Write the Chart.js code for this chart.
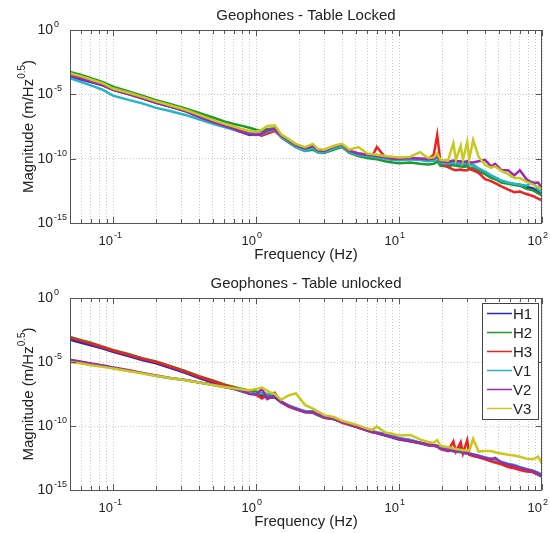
<!DOCTYPE html>
<html>
<head>
<meta charset="utf-8">
<script src="https://cdn.jsdelivr.net/npm/chart.js@4.4.0/dist/chart.umd.min.js"></script>
<style>
  html, body { margin: 0; padding: 0; background: #fff; }
  #wrap { position: relative; width: 550px; height: 533px; }
  #wrap canvas { position: absolute; left: 0; top: 0; }
</style>
</head>
<body>
<div id="wrap">
  <canvas id="locked" width="550" height="533"></canvas>
  <canvas id="unlocked" width="550" height="533"></canvas>
</div>
<script>
// frequency grid (Hz)
const freq = [0.05, 0.06, 0.07, 0.085, 0.1, 0.13, 0.16, 0.2, 0.25, 0.32, 0.4, 0.5, 0.6, 0.7, 0.8, 0.9,
  1.0, 1.1, 1.2, 1.35, 1.5, 1.7, 1.9, 2.2, 2.5, 2.7, 3.0, 3.5, 4.0, 4.5, 5.2, 6.0, 6.5, 7.0, 8.0, 9.0,
  10, 12, 14, 16, 17.5, 18.5, 19.5, 22, 24, 25, 27, 28, 30, 31, 33, 36, 40, 44, 47, 52, 58, 64, 70, 78, 86, 94, 100];

const seriesNames = ['H1', 'H2', 'H3', 'V1', 'V2', 'V3'];
const seriesColors = ['#2b2bb0', '#1f9a2e', '#ee2222', '#22b5c9', '#9a2ab0', '#c8c81e'];

// magnitudes as powers of ten, table locked
const lockedH1 = [-3.6, -3.85, -4.05, -4.3, -4.65, -5.0, -5.3, -5.65, -5.95, -6.3, -6.75, -7.15, -7.45, -7.7, -7.95, -8.15,
  -8.1, -8.2, -8.0, -7.8, -8.3, -8.7, -9.0, -9.25, -9.1, -9.4, -9.45, -9.2, -9.0, -9.45, -9.65, -9.75, -9.8, -9.85, -9.95, -10.05,
  -10.1, -10.0, -10.05, -10.15, -10.1, -9.7, -10.4, -10.5, -10.35, -10.4, -10.4, -10.45, -10.45, -10.5, -10.5, -10.8, -11.1, -11.4, -11.5, -11.8, -11.9, -12.0, -12.05, -12.2, -12.3, -12.55, -12.75];
const lockedH2 = [-3.26, -3.5, -3.75, -4.05, -4.4, -4.8, -5.1, -5.45, -5.75, -6.1, -6.45, -6.8, -7.1, -7.3, -7.45, -7.6,
  -7.75, -7.85, -7.7, -7.65, -8.35, -8.75, -9.1, -9.4, -9.3, -9.5, -9.55, -9.3, -9.1, -9.55, -9.8, -9.95, -10.0, -10.05, -10.2, -10.3,
  -10.35, -10.3, -10.4, -10.45, -10.4, -10.2, -10.55, -10.6, -10.5, -10.55, -10.6, -10.65, -10.6, -10.7, -10.75, -11.0, -11.2, -11.5, -11.6, -11.85, -11.95, -12.05, -12.1, -12.35, -12.45, -12.7, -12.85];
const lockedH3 = [-3.5, -3.75, -3.95, -4.25, -4.6, -4.95, -5.25, -5.6, -5.9, -6.25, -6.65, -7.05, -7.35, -7.6, -7.85, -8.0,
  -8.05, -8.2, -8.05, -7.85, -8.3, -8.65, -8.95, -9.2, -8.95, -9.35, -9.4, -9.1, -8.95, -9.4, -9.6, -9.7, -9.8, -9.1, -9.9, -9.95,
  -10.0, -9.95, -10.0, -10.0, -9.7, -8.15, -10.3, -10.65, -10.85, -10.9, -10.85, -10.9, -10.9, -10.8, -10.9, -11.1, -11.6, -11.75, -11.9, -12.15, -12.4, -12.6, -12.55, -12.75, -12.9, -13.1, -13.25];
const lockedV1 = [-3.75, -4.05, -4.3, -4.65, -5.1, -5.45, -5.7, -6.05, -6.3, -6.6, -6.95, -7.3, -7.55, -7.75, -7.95, -8.05,
  -8.0, -8.1, -7.9, -7.75, -8.3, -8.7, -9.05, -9.4, -9.2, -9.5, -9.5, -9.2, -9.0, -9.5, -9.7, -9.8, -9.85, -9.9, -10.0, -10.1,
  -10.1, -10.05, -10.1, -10.2, -10.15, -9.9, -10.35, -10.4, -10.3, -10.35, -10.4, -10.4, -10.35, -10.45, -10.5, -10.75, -11.0, -11.3, -11.45, -11.7, -11.85, -11.95, -12.0, -12.1, -11.8, -12.4, -12.6];
const lockedV2 = [-3.55, -3.8, -4.0, -4.3, -4.65, -5.0, -5.3, -5.65, -5.95, -6.3, -6.75, -7.15, -7.45, -7.7, -7.95, -8.1,
  -8.15, -8.05, -7.8, -7.7, -8.2, -8.6, -8.95, -9.2, -9.0, -9.35, -9.4, -9.05, -8.9, -9.4, -9.6, -9.7, -9.75, -9.8, -9.9, -10.0,
  -10.0, -9.95, -10.0, -10.05, -10.0, -9.8, -10.2, -10.25, -10.15, -10.2, -10.2, -10.25, -10.2, -10.3, -10.3, -10.2, -10.1, -10.6, -10.4, -10.9, -10.9, -11.3, -10.9, -11.6, -11.9, -11.85, -12.3];
const lockedV3 = [-3.35, -3.6, -3.85, -4.15, -4.55, -4.9, -5.2, -5.55, -5.85, -6.2, -6.6, -7.0, -7.3, -7.5, -7.7, -7.85,
  -7.9, -7.75, -7.45, -7.4, -8.1, -8.5, -8.85, -9.1, -8.85, -9.25, -9.3, -9.0, -8.85, -9.3, -9.1, -9.6, -9.65, -9.7, -9.8, -9.85,
  -9.9, -9.85, -9.5, -9.95, -9.9, -9.6, -10.1, -10.15, -8.8, -10.1, -9.0, -10.1, -8.7, -10.05, -8.55, -9.85, -10.5, -10.7, -10.6, -10.95, -11.2, -11.5, -11.5, -11.8, -12.0, -12.2, -12.4];

// magnitudes as powers of ten, table unlocked
const unlockedH1 = [-3.25, -3.5, -3.7, -3.95, -4.2, -4.55, -4.85, -5.1, -5.45, -5.85, -6.25, -6.6, -6.9, -7.1, -7.3, -7.45,
  -7.5, -7.65, -7.8, -7.75, -8.15, -8.45, -8.65, -8.9, -8.95, -9.15, -9.35, -9.45, -9.7, -9.9, -10.1, -10.35, -10.45, -10.55, -10.75, -10.9,
  -11.05, -11.2, -11.35, -11.5, -11.55, -11.6, -11.75, -11.9, -11.95, -12.0, -11.7, -12.1, -12.15, -12.2, -12.3, -12.4, -12.55, -12.7, -12.75, -12.9, -13.05, -13.15, -13.3, -13.45, -13.6, -13.8, -13.95];
const unlockedH2 = [-3.05, -3.3, -3.5, -3.8, -4.05, -4.4, -4.7, -4.95, -5.3, -5.7, -6.1, -6.45, -6.75, -6.95, -7.1, -7.25,
  -7.3, -7.5, -7.7, -7.65, -8.1, -8.45, -8.65, -8.85, -8.9, -9.1, -9.3, -9.45, -9.65, -9.85, -10.05, -10.3, -10.4, -10.5, -10.6, -10.7,
  -10.95, -11.1, -11.3, -11.45, -11.5, -11.55, -11.7, -11.85, -11.95, -12.0, -12.05, -12.1, -12.1, -12.2, -12.25, -12.35, -12.45, -12.6, -12.7, -12.8, -13.0, -13.1, -13.25, -13.4, -13.55, -13.75, -13.9];
const unlockedH3 = [-3.1, -3.35, -3.55, -3.85, -4.1, -4.45, -4.75, -5.0, -5.35, -5.75, -6.15, -6.5, -6.8, -7.0, -7.2, -7.35,
  -7.55, -7.85, -7.6, -7.4, -8.15, -8.5, -8.7, -8.9, -8.95, -9.1, -9.35, -9.45, -9.75, -9.9, -10.15, -10.35, -10.5, -10.55, -10.7, -10.85,
  -11.0, -11.2, -11.3, -11.5, -11.55, -11.6, -11.8, -11.95, -11.2, -12.0, -11.25, -12.15, -11.1, -12.25, -12.35, -12.45, -12.6, -12.75, -12.85, -13.0, -13.2, -13.3, -13.45, -13.55, -13.6, -13.75, -13.8];
const unlockedV1 = [-4.85, -5.0, -5.15, -5.3, -5.45, -5.7, -5.85, -6.1, -6.25, -6.4, -6.6, -6.8, -6.95, -7.1, -7.25, -7.45,
  -7.5, -7.4, -7.5, -7.5, -8.1, -8.4, -8.6, -8.85, -8.85, -9.1, -9.3, -9.4, -9.65, -9.85, -10.05, -10.3, -10.4, -10.5, -10.65, -10.8,
  -10.95, -11.1, -11.3, -11.45, -11.5, -11.55, -11.7, -11.85, -11.9, -11.95, -12.0, -12.05, -12.1, -12.15, -12.2, -12.3, -12.45, -12.55, -12.65, -12.8, -12.95, -13.05, -13.2, -13.35, -13.5, -13.65, -13.8];
const unlockedV2 = [-4.82, -4.98, -5.12, -5.28, -5.42, -5.65, -5.85, -6.05, -6.25, -6.4, -6.6, -6.75, -6.95, -7.1, -7.25, -7.5,
  -7.55, -7.1, -7.9, -7.6, -8.1, -8.45, -8.65, -8.9, -8.9, -9.1, -9.3, -9.45, -9.7, -9.85, -10.1, -10.35, -10.45, -10.55, -10.7, -10.85,
  -11.0, -11.15, -11.3, -11.45, -11.5, -11.55, -11.75, -11.9, -11.95, -12.0, -12.0, -12.05, -12.1, -12.15, -12.25, -12.35, -12.5, -12.6, -12.5, -12.85, -13.0, -13.1, -13.25, -13.4, -13.5, -13.7, -13.85];
const unlockedV3 = [-5.0, -5.12, -5.25, -5.38, -5.5, -5.72, -5.9, -6.1, -6.25, -6.42, -6.6, -6.8, -6.95, -7.05, -7.15, -7.2,
  -7.1, -7.0, -7.25, -7.5, -7.95, -7.6, -7.45, -8.35, -8.65, -8.85, -9.15, -9.3, -9.6, -9.75, -9.95, -10.2, -10.3, -10.05, -10.5, -10.6,
  -10.75, -10.7, -11.05, -11.25, -11.3, -11.1, -11.55, -11.65, -11.75, -11.8, -11.85, -11.9, -11.9, -11.95, -11.0, -12.0, -11.95, -11.95, -12.05, -12.15, -12.25, -12.3, -12.4, -12.55, -12.6, -12.4, -12.95];

// axis ticks
const xTicks = [0.05, 0.06, 0.07, 0.08, 0.09, 0.1, 0.2, 0.3, 0.4, 0.5, 0.6, 0.7, 0.8, 0.9,
  1, 2, 3, 4, 5, 6, 7, 8, 9, 10, 20, 30, 40, 50, 60, 70, 80, 90, 100];
const xLabelTicks = [0.1, 1, 10, 100];
const yTicks = [1e-15, 1e-10, 1e-5, 1];

const FONT = "'Liberation Sans', Arial, sans-serif";

function supLabel(ctx, x, y, exp, baseSize, raise) {
  // "10" ends at x, exponent starts right after it
  ctx.font = baseSize + 'px ' + FONT;
  ctx.textAlign = 'right';
  ctx.fillText('10', x, y);
  ctx.font = '9px ' + FONT;
  ctx.textAlign = 'left';
  ctx.fillText(String(exp), x + 1, y - raise);
}

const framePlugin = {
  id: 'frame',
  afterDraw(chart, args, opts) {
    const { ctx, chartArea: a, scales: { x, y } } = chart;
    ctx.save();
    ctx.fillStyle = '#222';
    ctx.strokeStyle = '#555';
    ctx.lineWidth = 1;
    ctx.strokeRect(a.left + 0.5, a.top + 0.5, a.right - a.left - 1, a.bottom - a.top);

    // inner tick marks
    ctx.beginPath();
    xTicks.forEach(v => {
      const px = Math.round(x.getPixelForValue(v)) + 0.5;
      const len = xLabelTicks.includes(v) ? 6 : 4;
      ctx.moveTo(px, a.bottom); ctx.lineTo(px, a.bottom - len);
      ctx.moveTo(px, a.top); ctx.lineTo(px, a.top + len);
    });
    yTicks.forEach(v => {
      const py = Math.round(y.getPixelForValue(v)) + 0.5;
      ctx.moveTo(a.left, py); ctx.lineTo(a.left + 6, py);
      ctx.moveTo(a.right, py); ctx.lineTo(a.right - 6, py);
    });
    ctx.stroke();

    // tick labels
    ctx.textBaseline = 'alphabetic';
    xLabelTicks.forEach(v => {
      const px = x.getPixelForValue(v);
      supLabel(ctx, px, a.bottom + 22, Math.round(Math.log10(v)), 13, 7);
    });
    yTicks.forEach(v => {
      const py = y.getPixelForValue(v);
      supLabel(ctx, 53, py + 4, Math.round(Math.log10(v)), 14, 7);
    });

    // titles
    const cx = (a.left + a.right) / 2;
    ctx.font = '15px ' + FONT;
    ctx.textAlign = 'center';
    ctx.fillText(opts.title, cx, a.top - 10);
    ctx.fillText('Frequency (Hz)', cx, a.bottom + 36);

    // y title with superscript
    const cy = (a.top + a.bottom) / 2;
    const main = 'Magnitude (m/Hz';
    ctx.font = '15px ' + FONT;
    const w1 = ctx.measureText(main).width;
    const w3 = ctx.measureText(')').width;
    ctx.font = '10px ' + FONT;
    const w2 = ctx.measureText('0.5').width;
    const total = w1 + w2 + w3;
    ctx.translate(33, cy);
    ctx.rotate(-Math.PI / 2);
    ctx.textAlign = 'left';
    ctx.font = '15px ' + FONT;
    ctx.fillText(main, -total / 2, 0);
    ctx.font = '10px ' + FONT;
    ctx.fillText('0.5', -total / 2 + w1, -8);
    ctx.font = '15px ' + FONT;
    ctx.fillText(')', -total / 2 + w1 + w2, 0);
    ctx.restore();

    // legend
    if (opts.legend) {
      ctx.save();
      ctx.fillStyle = '#fff';
      ctx.fillRect(482, 303, 56, 116);
      ctx.strokeStyle = '#444';
      ctx.lineWidth = 1;
      ctx.strokeRect(482.5, 303.5, 56, 116);
      ctx.font = '15px ' + FONT;
      ctx.textAlign = 'left';
      seriesNames.forEach((n, i) => {
        const ry = 313 + 19 * i;
        ctx.strokeStyle = seriesColors[i];
        ctx.lineWidth = 1.5;
        ctx.beginPath();
        ctx.moveTo(487, ry + 0.5); ctx.lineTo(512, ry + 0.5);
        ctx.stroke();
        ctx.fillStyle = '#222';
        ctx.fillText(n, 513, ry + 5.5);
      });
      ctx.restore();
    }
  }
};

function buildDatasets(arrays) {
  return arrays.map((arr, i) => ({
    label: seriesNames[i],
    data: freq.map((f, k) => ({ x: f, y: Math.pow(10, arr[k]) })),
    borderColor: seriesColors[i],
    backgroundColor: seriesColors[i],
    borderWidth: 2.5,
    pointRadius: 0,
    tension: 0,
    order: 5 - i
  }));
}

function makeChart(id, title, arrays, plotTop, plotBottom, legend) {
  return new Chart(document.getElementById(id), {
    type: 'line',
    data: { datasets: buildDatasets(arrays) },
    options: {
      responsive: false,
      animation: false,
      devicePixelRatio: 1,
      layout: { padding: { top: plotTop, left: 0, right: 8, bottom: 0 } },
      plugins: {
        legend: { display: false },
        tooltip: { enabled: false },
        frame: { title: title, legend: legend }
      },
      scales: {
        x: {
          type: 'logarithmic',
          min: 0.05,
          max: 100,
          afterBuildTicks: s => { s.ticks = xTicks.map(v => ({ value: v })); },
          afterFit: s => { s.height = 533 - plotBottom; },
          ticks: { display: false, autoSkip: false },
          grid: { color: 'rgba(0,0,0,0.22)', drawTicks: false },
          border: { display: false, dash: [1, 2] }
        },
        y: {
          type: 'logarithmic',
          min: 1e-15,
          max: 1,
          afterBuildTicks: s => { s.ticks = yTicks.map(v => ({ value: v })); },
          afterFit: s => { s.width = 70; },
          ticks: { display: false, autoSkip: false },
          grid: { color: 'rgba(0,0,0,0.22)', drawTicks: false },
          border: { display: false, dash: [1, 2] }
        }
      }
    },
    plugins: [framePlugin]
  });
}

makeChart('locked', 'Geophones - Table Locked',
  [lockedH1, lockedH2, lockedH3, lockedV1, lockedV2, lockedV3], 30, 223, false);
makeChart('unlocked', 'Geophones - Table unlocked',
  [unlockedH1, unlockedH2, unlockedH3, unlockedV1, unlockedV2, unlockedV3], 298, 490, true);
</script>
</body>
</html>
